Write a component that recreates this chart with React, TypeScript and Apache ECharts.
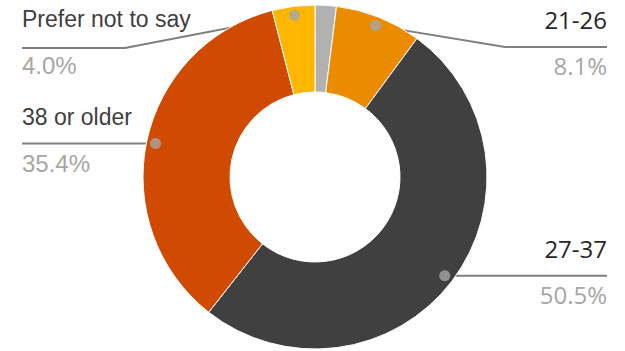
import React, { useEffect, useRef } from "react";
import * as echarts from "echarts";

// ---- data ----
const categories = ["Under 21", "21-26", "27-37", "38 or older", "Prefer not to say"];
const shares = [2.0, 8.1, 50.5, 35.4, 4.0];

// ---- styles / layout ----
const palette = ["#B1B1B1", "#EB8C00", "#404041", "#D04A02", "#FFB600"];
const CENTER: [number, number] = [315, 177];
const R_IN = 85;
const R_OUT = 172;
const DOT_R = 163;

type Lay = { side: "left" | "right"; lineY?: number; bendX?: number; textOffset: number };
const labelLayouts: Record<string, Lay> = {
  "21-26": { side: "right", lineY: 47, bendX: 505, textOffset: 51 },
  "27-37": { side: "right", textOffset: 50 },
  "38 or older": { side: "left", textOffset: 49 },
  "Prefer not to say": { side: "left", lineY: 48, bendX: 125, textOffset: 52 },
};

const total = shares.reduce((a, b) => a + b, 0);
const midShare = (i: number) => {
  let c = 0;
  for (let k = 0; k < i; k++) c += shares[k];
  return c + shares[i] / 2;
};
const dotPos = (i: number): [number, number] => {
  const a = (midShare(i) / total) * Math.PI * 2;
  return [CENTER[0] + DOT_R * Math.sin(a), CENTER[1] - DOT_R * Math.cos(a)];
};

const richLeft = {
  n: { fontFamily: "Liberation Sans", fontSize: 23, color: "#404040", lineHeight: 46 },
  v: { fontFamily: "Liberation Sans", fontSize: 24, color: "#A6A6A6", lineHeight: 46 },
};
const richRight = {
  n: { fontFamily: "Open Sans", fontSize: 24, color: "#262626", lineHeight: 46 },
  v: { fontFamily: "Open Sans", fontSize: 24, color: "#A6A6A6", lineHeight: 46 },
};

export default function App() {
  const ref = useRef<HTMLDivElement>(null);
  useEffect(() => {
    if (!ref.current) return;
    const chart = echarts.init(ref.current, undefined, { renderer: "svg" });
    const pieData = categories.map((name, i) => {
      const lay = labelLayouts[name];
      return {
        name,
        value: shares[i],
        itemStyle: { color: palette[i] },
        label: lay
          ? {
              show: true,
              overflow: "none",
              formatter: `{n|${name}}\n{v|${shares[i].toFixed(1)}%}`,
              rich: lay.side === "left" ? richLeft : richRight,
            }
          : { show: false },
        labelLine: { show: !!lay },
      };
    });
    chart.setOption({
      animation: false,
      polar: { center: CENTER, radius: R_OUT },
      angleAxis: { type: "value", min: 0, max: total, startAngle: 90, clockwise: true, show: false },
      radiusAxis: { type: "value", min: 0, max: R_OUT, show: false },
      series: [
        {
          type: "pie",
          center: CENTER,
          radius: [R_IN, R_OUT],
          startAngle: 90,
          clockwise: true,
          silent: true,
          itemStyle: { borderColor: "#ffffff", borderWidth: 1 },
          label: { position: "outside", overflow: "none", width: 300 },
          labelLine: { show: true, lineStyle: { color: "#7F7F7F", width: 2 } },
          labelLayout: (params: any) => {
            const i = params.dataIndex;
            const lay = labelLayouts[categories[i]];
            if (!lay) return {};
            const [dx, dy] = dotPos(i);
            const lineY = lay.lineY ?? dy;
            const bendX = lay.bendX ?? dx;
            const edgeX = lay.side === "right" ? 607 : 22;
            return {
              x: edgeX,
              y: lineY - lay.textOffset,
              align: lay.side === "right" ? "right" : "left",
              verticalAlign: "top",
              labelLinePoints: [
                [dx, dy],
                [bendX, lineY],
                [edgeX, lineY],
              ],
            };
          },
          data: pieData,
        },
        {
          type: "scatter",
          coordinateSystem: "polar",
          silent: true,
          z: 10,
          symbolSize: 11,
          itemStyle: { color: "#A6A6A6" },
          data: categories
            .map((name, i) => (labelLayouts[name] ? [DOT_R, midShare(i)] : null))
            .filter((d) => d !== null),
        },
      ],
    });
    return () => chart.dispose();
  }, []);
  return (
    <div
      ref={ref}
      style={{ position: "fixed", left: 0, top: 0, width: 625, height: 351, background: "#fff" }}
    />
  );
}
